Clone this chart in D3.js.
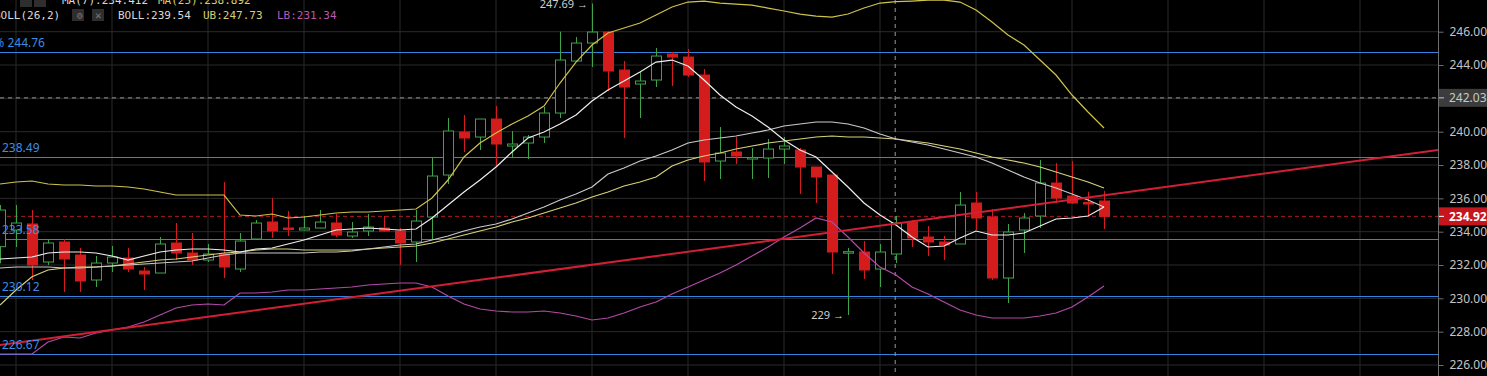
<!DOCTYPE html>
<html>
<head>
<meta charset="utf-8">
<script src="https://cdn.jsdelivr.net/npm/d3@7"></script>
<style>
  html, body { margin: 0; padding: 0; background: #000; overflow: hidden; }
  svg { display: block; }
</style>
</head>
<body>
<div id="chart"></div>
<script>
// candle data (index = candle slot)
var opens = [233.10, 234.10, 234.46, 232.18, 233.38, 232.60, 231.10, 232.12, 232.42, 231.64,
  231.52, 233.32, 232.72, 232.30, 232.66, 231.76, 233.56, 234.58, 234.22, 234.10,
  234.22, 234.52, 233.74, 234.04, 234.22, 234.04, 233.38, 234.88, 237.40, 239.98,
  239.68, 240.76, 239.14, 239.32, 239.68, 241.12, 244.24, 245.32, 245.98, 243.70,
  242.86, 243.10, 244.66, 244.48, 243.40, 238.24, 238.78, 238.36, 238.42, 238.96,
  238.90, 237.88, 237.40, 232.72, 232.78, 231.76, 232.66, 234.58, 233.68, 233.38,
  233.26, 235.72, 234.88, 231.22, 234.10, 234.94, 236.92, 236.14, 235.75, 235.84];
var highs = [235.60, 235.60, 235.30, 233.56, 233.56, 233.02, 232.54, 233.14, 233.02, 231.88,
  233.68, 234.52, 233.92, 233.26, 236.98, 233.92, 234.70, 236.02, 235.24, 234.94,
  235.30, 235.06, 234.58, 235.06, 234.94, 234.22, 235.30, 238.42, 240.82, 241.00,
  240.76, 241.54, 240.04, 239.80, 241.48, 246.00, 245.68, 247.69, 246.05, 244.24,
  243.58, 245.02, 244.78, 244.96, 243.76, 240.28, 239.68, 239.02, 239.56, 239.68,
  239.02, 237.88, 237.40, 233.02, 233.44, 233.26, 234.94, 234.70, 234.34, 233.74,
  236.38, 236.38, 235.36, 234.46, 235.12, 238.30, 238.12, 238.24, 236.40, 236.44];
var lows = [232.10, 233.08, 231.10, 232.00, 230.38, 230.38, 230.68, 231.58, 231.58, 230.50,
  231.52, 232.30, 232.00, 232.18, 231.22, 231.58, 233.50, 233.62, 233.74, 234.07,
  234.20, 233.68, 233.62, 233.74, 234.01, 232.00, 232.18, 233.56, 236.86, 238.78,
  238.90, 237.94, 238.42, 238.36, 239.32, 240.82, 244.18, 243.88, 242.44, 239.62,
  240.82, 242.68, 242.74, 243.28, 237.04, 237.16, 238.06, 237.16, 237.22, 238.06,
  236.26, 235.72, 231.46, 229.00, 231.16, 230.68, 232.12, 233.08, 232.54, 232.30,
  233.26, 234.10, 231.10, 229.72, 232.72, 234.22, 235.72, 235.66, 234.94, 234.16];
var closes = [235.30, 234.52, 232.00, 233.32, 232.36, 231.04, 232.12, 232.48, 231.76, 231.46,
  233.26, 232.72, 232.30, 232.66, 231.88, 233.44, 234.52, 234.04, 234.13, 234.22,
  234.58, 233.80, 233.98, 234.28, 234.04, 233.32, 234.64, 237.34, 240.04, 239.62,
  240.76, 239.26, 239.26, 239.68, 241.12, 244.30, 245.32, 245.98, 243.64, 242.68,
  243.04, 244.54, 244.48, 243.40, 238.18, 238.72, 238.54, 238.45, 238.96, 239.14,
  237.88, 237.28, 232.78, 232.80, 231.70, 232.78, 234.52, 233.62, 233.38, 233.20,
  235.60, 234.82, 231.22, 233.98, 234.82, 236.92, 236.02, 235.72, 235.70, 234.92];

// indicator lines
var ma7 = [232.36, 232.42, 232.48, 232.72, 232.78, 232.78, 232.72, 232.54, 232.30, 232.54,
  232.78, 232.90, 232.96, 232.96, 232.90, 232.78, 232.96, 233.02, 233.26, 233.50,
  233.80, 234.10, 234.16, 234.22, 234.16, 234.10, 234.16, 234.82, 235.60, 236.38,
  237.10, 237.88, 238.78, 239.62, 239.98, 240.46, 241.00, 241.84, 242.50, 243.04,
  243.58, 244.18, 244.30, 243.94, 243.10, 242.20, 241.48, 240.94, 240.28, 239.50,
  238.90, 238.48, 237.58, 236.68, 235.72, 235.00, 234.40, 233.68, 233.08, 233.14,
  233.62, 234.04, 233.80, 233.80, 233.92, 234.34, 234.76, 234.82, 234.94, 235.48];
var ma25 = [229.60, 230.50, 231.30, 231.70, 231.82, 231.88, 231.88, 231.94, 232.06, 232.18,
  232.30, 232.36, 232.48, 232.60, 232.72, 232.78, 232.90, 232.96, 232.96, 232.90,
  232.90, 232.90, 232.90, 232.96, 233.02, 233.08, 233.14, 233.32, 233.56, 233.80,
  234.04, 234.28, 234.58, 234.82, 235.12, 235.42, 235.72, 236.08, 236.38, 236.74,
  236.98, 237.28, 237.94, 238.30, 238.54, 238.72, 238.96, 239.14, 239.32, 239.44,
  239.56, 239.68, 239.74, 239.68, 239.68, 239.62, 239.56, 239.44, 239.32, 239.14,
  238.96, 238.72, 238.48, 238.30, 238.12, 237.88, 237.58, 237.28, 236.98, 236.62];
var bollMid = [231.82, 231.88, 231.88, 231.88, 231.82, 231.82, 231.88, 231.94, 232.00, 232.06,
  232.12, 232.18, 232.24, 232.42, 232.60, 232.72, 232.72, 232.72, 232.72, 232.72,
  232.78, 232.78, 232.84, 232.96, 233.08, 233.20, 233.26, 233.50, 233.74, 234.04,
  234.28, 234.46, 234.76, 235.12, 235.48, 235.90, 236.26, 236.68, 237.46, 237.82,
  238.24, 238.54, 238.90, 239.32, 239.50, 239.62, 239.74, 239.92, 240.10, 240.34,
  240.46, 240.58, 240.58, 240.46, 240.22, 239.86, 239.56, 239.38, 239.20, 238.96,
  238.72, 238.48, 238.12, 237.70, 237.28, 236.92, 236.62, 236.26, 235.90, 235.48];
var bollUp = [236.86, 236.98, 237.04, 236.86, 236.80, 236.80, 236.74, 236.74, 236.68, 236.56,
  236.38, 236.20, 236.20, 236.20, 236.20, 235.00, 234.94, 235.06, 234.82, 234.88,
  235.00, 235.12, 235.18, 235.18, 235.24, 235.30, 235.36, 236.02, 237.10, 238.48,
  239.32, 239.92, 240.46, 240.94, 241.54, 242.92, 244.18, 245.20, 245.92, 246.22,
  246.52, 247.00, 247.48, 247.78, 247.84, 247.72, 247.66, 247.60, 247.42, 247.24,
  247.06, 246.94, 246.88, 247.06, 247.42, 247.72, 247.80, 247.84, 247.90, 247.90,
  247.78, 247.30, 246.58, 245.80, 245.20, 244.30, 243.40, 242.20, 241.18, 240.22];
var bollLow = [226.66, 226.66, 226.66, 227.38, 227.68, 227.62, 227.92, 228.10, 228.28, 228.58,
  229.00, 229.42, 229.60, 229.66, 229.60, 230.32, 230.32, 230.38, 230.50, 230.50,
  230.56, 230.62, 230.68, 230.80, 230.86, 230.92, 230.92, 230.68, 230.14, 229.66,
  229.36, 229.24, 229.18, 229.18, 229.24, 229.12, 228.94, 228.70, 228.82, 229.12,
  229.48, 229.78, 230.26, 230.68, 231.10, 231.52, 232.00, 232.54, 233.08, 233.68,
  234.22, 234.82, 234.58, 233.68, 232.72, 231.88, 231.40, 230.68, 230.26, 229.78,
  229.30, 229.00, 228.82, 228.82, 228.82, 228.94, 229.12, 229.48, 230.08, 230.74];

// horizontal levels and labels
var levels = [244.76, 238.49, 233.58, 230.12, 226.67];
var levelLabels = ["100% 244.76", "238.49", "233.58", "230.12", "226.67"];
var yTicks = [226, 228, 230, 232, 234, 236, 238, 240, 242, 244, 246];
var trendLine = [[0, 227.20], [89.875, 238.90]];
var lastPrice = 234.92;
var crosshair = { index: 55.95, price: 242.03 };
var highMark = { index: 37, price: 247.69, text: "247.69 \u2192" };
var lowMark = { index: 53, price: 229, text: "229 \u2192" };

var W = 1487, H = 376, plotW = 1438;

var svg = d3.select("#chart").append("svg")
  .attr("width", W).attr("height", H);
svg.append("rect").attr("width", W).attr("height", H).attr("fill", "#000");

var x = d3.scaleLinear().domain([0, 89.875]).range([0, plotW]);
var y = d3.scaleLinear().domain([226, 246]).range([365, 31.7]);

var plot = svg.append("g");
plot.append("clipPath").attr("id", "clip")
  .append("rect").attr("width", plotW).attr("height", H);
var g = plot.append("g").attr("clip-path", "url(#clip)");

// grid
g.selectAll(".hgrid").data(yTicks).enter().append("line")
  .attr("x1", 0).attr("x2", plotW)
  .attr("y1", d => y(d)).attr("y2", d => y(d))
  .attr("stroke", "#2a2a2a").attr("stroke-width", 1);
g.selectAll(".vgrid").data(d3.range(1, 90, 6)).enter().append("line")
  .attr("x1", d => x(d)).attr("x2", d => x(d))
  .attr("y1", 0).attr("y2", H)
  .attr("stroke", "#2a2a2a").attr("stroke-width", 1);

// fib levels
g.selectAll(".lvl").data(levels).enter().append("line")
  .attr("x1", 0).attr("x2", plotW)
  .attr("y1", d => Math.round(y(d)) + 0.5).attr("y2", d => Math.round(y(d)) + 0.5)
  .attr("stroke", "#3483e0").attr("stroke-width", 1);

// crosshair
g.append("line")
  .attr("x1", 0).attr("x2", plotW)
  .attr("y1", y(crosshair.price)).attr("y2", y(crosshair.price))
  .attr("stroke", "#9a9a9a").attr("stroke-dasharray", "4,4");
g.append("line")
  .attr("x1", x(crosshair.index)).attr("x2", x(crosshair.index))
  .attr("y1", 0).attr("y2", H)
  .attr("stroke", "#9a9a9a").attr("stroke-dasharray", "4,4");

// last price line
g.append("line")
  .attr("x1", 0).attr("x2", plotW)
  .attr("y1", y(lastPrice)).attr("y2", y(lastPrice))
  .attr("stroke", "#b01c22").attr("stroke-dasharray", "4,3");

// candles
var candles = opens.map((o, i) => ({ i: i, o: o, h: highs[i], l: lows[i], c: closes[i] }));
var cg = g.selectAll(".candle").data(candles).enter().append("g");
cg.append("line")
  .attr("x1", d => Math.round(x(d.i)) + 0.5).attr("x2", d => Math.round(x(d.i)) + 0.5)
  .attr("y1", d => y(d.h)).attr("y2", d => y(d.l))
  .attr("stroke", d => d.c >= d.o ? "#3fa34a" : "#d41c1c");
cg.append("rect")
  .attr("x", d => Math.round(x(d.i)) - 4.5)
  .attr("width", 10)
  .attr("y", d => y(Math.max(d.o, d.c)))
  .attr("height", d => Math.max(1.5, Math.abs(y(d.o) - y(d.c))))
  .attr("fill", d => d.c >= d.o ? "#000" : "#d41c1c")
  .attr("stroke", d => d.c >= d.o ? "#3fa34a" : "#d41c1c")
  .attr("stroke-width", 1);

// indicator lines
function drawLine(values, color, width) {
  var line = d3.line().x((d, i) => x(i)).y(d => y(d));
  g.append("path").datum(values)
    .attr("d", line).attr("fill", "none")
    .attr("stroke", color).attr("stroke-width", width);
}
drawLine(bollLow, "#b24aa8", 1.2);
drawLine(bollUp, "#cfc24a", 1.2);
drawLine(ma25, "#d8d17a", 1.2);
drawLine(bollMid, "#c9c9c9", 1.2);
drawLine(ma7, "#eeeeee", 1.2);

// trend line
g.append("line")
  .attr("x1", x(trendLine[0][0])).attr("y1", y(trendLine[0][1]))
  .attr("x2", x(trendLine[1][0])).attr("y2", y(trendLine[1][1]))
  .attr("stroke", "#d21f35").attr("stroke-width", 2);

// level labels
g.selectAll(".lvlText").data(levels).enter().append("text")
  .attr("x", (d, i) => i === 0 ? 45 : 2)
  .attr("y", d => y(d) - 5)
  .attr("text-anchor", (d, i) => i === 0 ? "end" : "start")
  .attr("font-family", "Noto Sans, sans-serif").attr("font-size", 12)
  .attr("fill", "#3a8de6")
  .text((d, i) => levelLabels[i]);

// high / low marks
[highMark, lowMark].forEach(m => {
  g.append("text")
    .attr("x", x(m.index) - 4).attr("y", y(m.price) + 4)
    .attr("text-anchor", "end")
    .attr("font-family", "Noto Sans, sans-serif").attr("font-size", 11)
    .attr("fill", "#cfcfcf")
    .text(m.text);
});

// y axis on the right
var yAxis = d3.axisRight(y).tickValues(yTicks).tickFormat(d3.format(".2f")).tickSize(5).tickPadding(6);
var ax = svg.append("g").attr("transform", "translate(" + (plotW + 0.5) + ",0)").call(yAxis);
ax.select(".domain").attr("stroke", "#6e6e6e").attr("d", "M0,0V" + H);
ax.selectAll(".tick line").attr("stroke", "#6e6e6e");
ax.selectAll(".tick text").attr("fill", "#c4c4c4")
  .attr("font-family", "Noto Sans, sans-serif").attr("font-size", 12);

// axis tags
function axisTag(price, bg, fg, bold) {
  var t = svg.append("g").attr("transform", "translate(" + (plotW + 1) + "," + y(price) + ")");
  t.append("rect").attr("x", 0).attr("y", -9).attr("width", W - plotW).attr("height", 18).attr("fill", bg);
  t.append("line").attr("x1", 0).attr("x2", 5).attr("stroke", fg);
  t.append("text").attr("x", 10).attr("y", 4.5)
    .attr("font-family", "Noto Sans, sans-serif").attr("font-size", 12)
    .attr("font-weight", bold ? "bold" : "normal")
    .attr("fill", fg).text(d3.format(".2f")(price));
}
axisTag(crosshair.price, "#3c3c3c", "#c8c8c8", false);
axisTag(lastPrice, "#c4161c", "#ffffff", true);

// legend rows
var mono = "DejaVu Sans Mono, monospace";
function icon(xp, yp) {
  svg.append("rect").attr("x", xp).attr("y", yp).attr("width", 12).attr("height", 12)
    .attr("fill", "#2e2e2e");
}
icon(20, -5); icon(34, -5);
var row1 = [["MA(7):234.412", "#d8d8d8", 62], ["MA(25):238.892", "#d6cf72", 158]];
row1.forEach(r => svg.append("text").attr("x", r[2]).attr("y", 4)
  .attr("font-family", mono).attr("font-size", 11).attr("fill", r[1]).text(r[0]));
icon(72, 9); icon(92, 9);
svg.append("text").attr("x", 77).attr("y", 19).attr("font-family", mono).attr("font-size", 10)
  .attr("fill", "#777").text("\u2699");
svg.append("text").attr("x", 95).attr("y", 19).attr("font-family", mono).attr("font-size", 11)
  .attr("fill", "#777").text("\u2715");
var row2 = [["BOLL(26,2)", "#d8d8d8", -6], ["BOLL:239.54", "#d8d8d8", 118],
  ["UB:247.73", "#d6cf72", 203], ["LB:231.34", "#b85ab0", 277]];
row2.forEach(r => svg.append("text").attr("x", r[2]).attr("y", 19)
  .attr("font-family", mono).attr("font-size", 11).attr("fill", r[1]).text(r[0]));
</script>
</body>
</html>
